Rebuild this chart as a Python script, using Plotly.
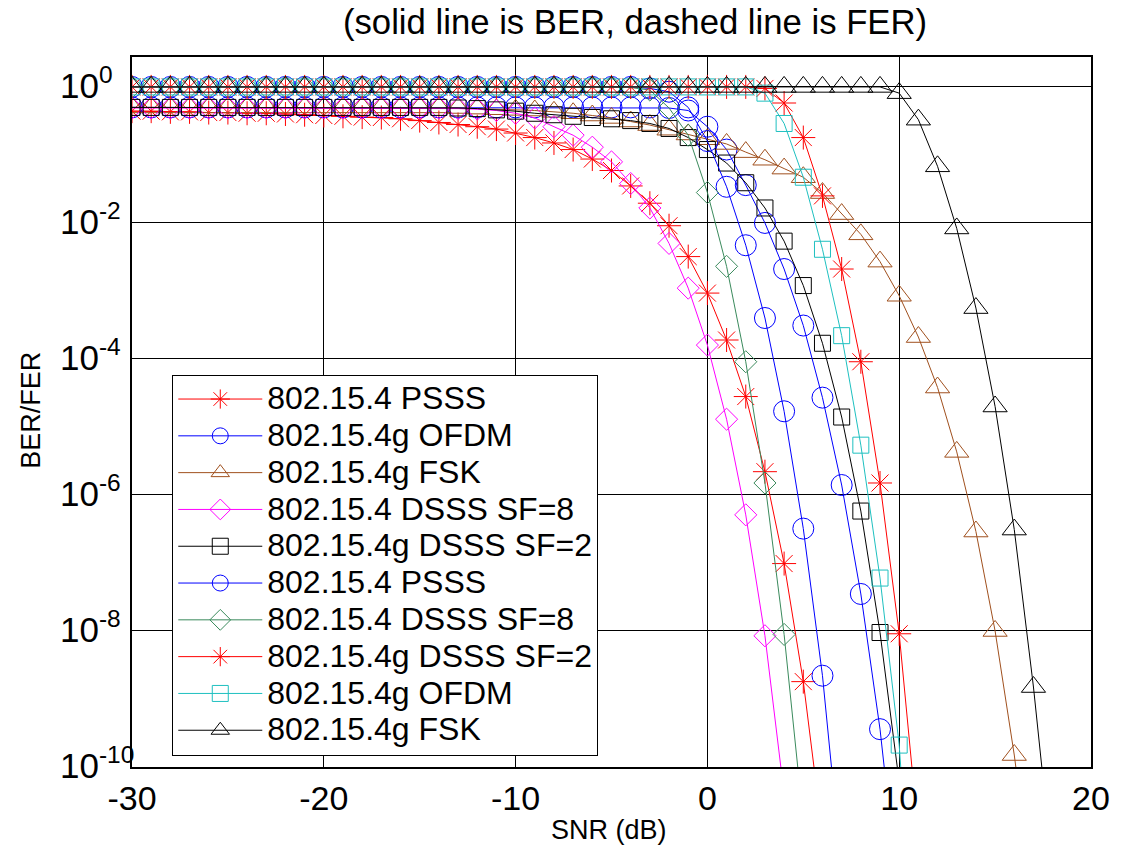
import math
import plotly.graph_objects as go

# SNR axis (dB), one marker per dB
snr_db = list(range(-30, 19))

# BER curves (solid)
ber_psss = [0.44, 0.44, 0.43, 0.43, 0.42, 0.42, 0.41, 0.41, 0.40, 0.39,
            0.38, 0.37, 0.36, 0.355, 0.34, 0.32, 0.30, 0.28, 0.26, 0.24,
            0.21, 0.18, 0.15, 0.12, 0.087, 0.059, 0.035, 0.0195, 0.0091, 0.0032,
            9.3e-4, 1.9e-4, 2.8e-5, 2.2e-6, 9.8e-8, 1.8e-9, 1e-11]
ber_ofdm = [0.5] * 28 + [0.49, 0.45, 0.26, 0.12, 0.036, 0.010, 0.0021, 3.1e-4,
                         2.7e-5, 1.4e-6, 3.5e-8, 3.6e-10, 1e-12]
ber_fsk = [0.5] * 17 + [0.49, 0.48, 0.47, 0.46, 0.45, 0.43, 0.41, 0.38, 0.35, 0.31,
                        0.275, 0.235, 0.20, 0.17, 0.145, 0.11, 0.085, 0.063, 0.047,
                        0.0275, 0.0135, 0.0068, 0.0027, 8.5e-4, 2.1e-4, 3.8e-5,
                        4.3e-6, 2.9e-7, 1.0e-8, 1.5e-10, 1e-12]
ber_dsss8 = [0.49] * 17 + [0.48, 0.47, 0.45, 0.41, 0.35, 0.26, 0.195, 0.13, 0.079,
                           0.038, 0.0166, 0.0050, 0.0011, 1.6e-4, 1.3e-5, 5.1e-7,
                           8.5e-9, 4e-11]
ber_dsss2 = [0.5] * 17 + [0.49, 0.48, 0.46, 0.44, 0.41, 0.39, 0.37, 0.355, 0.34,
                          0.32, 0.29, 0.245, 0.18, 0.12, 0.076, 0.039, 0.0166,
                          0.0054, 0.0012, 1.7e-4, 1.4e-5, 5.8e-7, 9.5e-9, 6e-11]

# FER curves
fer_psss = [1.0] * 27 + [0.95, 0.85, 0.5, 0.16, 0.034, 0.0047, 4.0e-4, 1.7e-5,
                         3.2e-7, 2.2e-9, 3e-12]
fer_dsss8 = [1.0] * 26 + [0.98, 0.9, 0.49, 0.195, 0.028, 0.0023, 9.1e-5, 1.5e-6,
                          8.9e-9, 1.6e-11]
fer_dsss2 = [1.0] * 33 + [0.95, 0.58, 0.18, 0.025, 0.0021, 9.1e-5, 1.5e-6, 9.1e-9,
                          1e-11]
fer_ofdm = [1.0] * 33 + [0.81, 0.29, 0.047, 0.0041, 2.2e-4, 5.4e-6, 6.0e-8, 2.1e-10,
                         2e-14]
fer_fsk = [1.0] * 40 + [0.81, 0.33, 0.068, 0.0083, 5.6e-4, 2.0e-5, 3.1e-7, 1.5e-9,
                        3e-12]

series_names = ["802.15.4 PSSS", "802.15.4g OFDM", "802.15.4g FSK",
                "802.15.4 DSSS SF=8", "802.15.4g DSSS SF=2", "802.15.4 PSSS",
                "802.15.4 DSSS SF=8", "802.15.4g DSSS SF=2", "802.15.4g OFDM",
                "802.15.4g FSK"]
series_values = [ber_psss, ber_ofdm, ber_fsk, ber_dsss8, ber_dsss2,
                 fer_psss, fer_dsss8, fer_dsss2, fer_ofdm, fer_fsk]
series_colors = ["#FF0000", "#0000FF", "#A0501E", "#FF00FF", "#000000",
                 "#0000FF", "#3A8A5C", "#FF0000", "#1EC0C0", "#000000"]
series_symbols = ["asterisk-open", "circle-open", "triangle-up-open", "diamond-open",
                  "square-open", "circle-open", "diamond-open", "asterisk-open",
                  "square-open", "triangle-up-open"]
series_sizes = [20, 21, 21, 17, 16, 21, 17, 20, 16, 21]

ytick_vals = [1e0, 1e-2, 1e-4, 1e-6, 1e-8, 1e-10]
ytick_text = ["10<sup>0</sup>", "10<sup>-2</sup>", "10<sup>-4</sup>",
              "10<sup>-6</sup>", "10<sup>-8</sup>", "10<sup>-10</sup>"]
xtick_vals = [-30, -20, -10, 0, 10, 20]
xtick_text = ["-30", "-20", "-10", "0", "10", "20"]

FONT = "Liberation Sans, Arial, sans-serif"

fig = go.Figure()
for i, (name, vals, col, sym, sz) in enumerate(zip(series_names, series_values,
                                                  series_colors, series_symbols,
                                                  series_sizes)):
    fig.add_trace(go.Scatter(
        x=snr_db[:len(vals)], y=vals, mode="lines+markers",
        name='<span style="font-size:32px">%s</span>' % name,
        line=dict(color=col, width=1),
        marker=dict(symbol=sym, size=sz, color=col, line=dict(color=col, width=1)),
    ))

fig.update_layout(
    width=1122, height=852,
    margin=dict(l=132, r=24, t=57, b=85),
    paper_bgcolor="white", plot_bgcolor="white",
    font=dict(family=FONT, size=30, color="black"),
    title=dict(text="(solid line is BER, dashed line is FER)",
               x=0.566, xref="container", xanchor="center",
               y=1 - 22 / 852, yref="container", yanchor="middle",
               font=dict(size=34.7)),
    showlegend=True,
    legend=dict(x=0.042, y=0.016, xanchor="left", yanchor="bottom",
                bgcolor="white", bordercolor="black", borderwidth=1,
                font=dict(size=26), itemwidth=84,
                traceorder="normal"),
)
fig.update_xaxes(range=[-30, 20], tickvals=xtick_vals, ticktext=xtick_text,
                 showgrid=True, gridcolor="black", gridwidth=1, zeroline=False,
                 showline=True, linecolor="black", linewidth=1.5, mirror=True,
                 ticks="", ticklabelstandoff=0,
                 tickfont=dict(size=34))
fig.update_yaxes(type="log", range=[-10, 0.44], tickvals=ytick_vals,
                 showticklabels=False,
                 showgrid=True, gridcolor="black", gridwidth=1, zeroline=False,
                 showline=True, linecolor="black", linewidth=1.5, mirror=True,
                 ticks="")

# y tick labels, left-aligned like the original (base "10" in a column)
for v, t in zip(ytick_vals, ytick_text):
    fig.add_annotation(text=t, x=(57 - 132) / 966, y=math.log10(v), xref="paper",
                       yref="y", xanchor="left", yanchor="middle", yshift=4,
                       showarrow=False, font=dict(size=35))

fig.add_annotation(text="SNR (dB)", x=0.497, y=-(830 - 767) / 710, xref="paper",
                   yref="paper", xanchor="center", yanchor="middle",
                   showarrow=False, font=dict(size=27))
fig.add_annotation(text="BER/FER", x=-(132 - 30) / 966, y=(767 - 410) / 710,
                   xref="paper", yref="paper", xanchor="center", yanchor="middle",
                   textangle=-90, showarrow=False, font=dict(size=27))

fig.write_html("out.html")
